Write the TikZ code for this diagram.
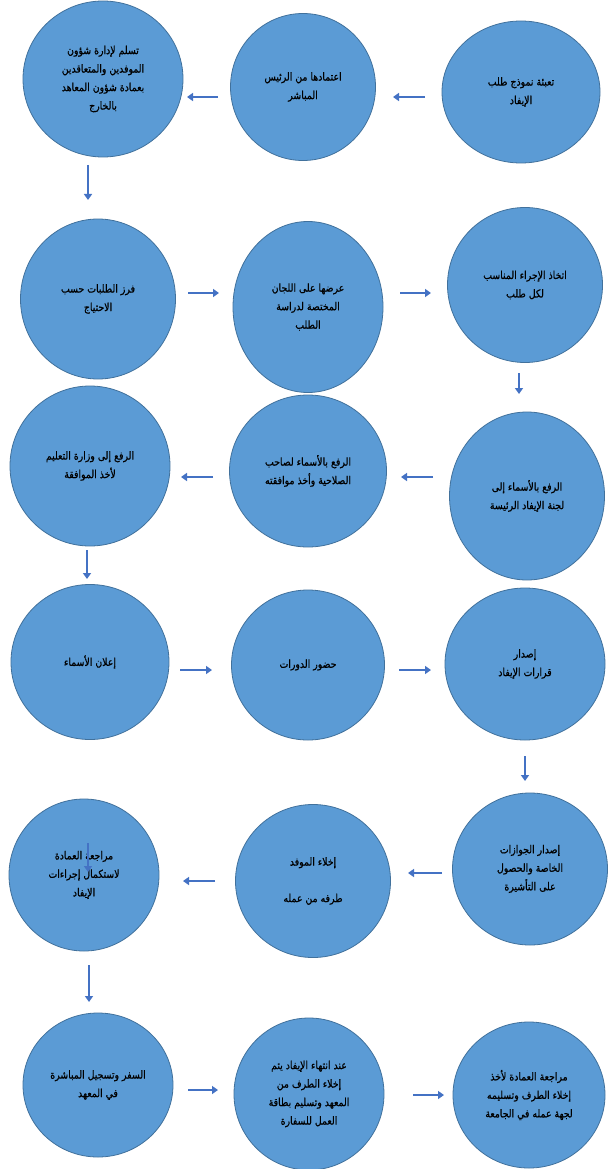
\documentclass[tikz,border=0pt]{standalone}
\usepackage{fontspec}
\usepackage{tikz}
\usetikzlibrary{shapes.geometric,arrows.meta}
\TeXXeTstate=1
\newfontfamily\arabicfont[Script=Arabic,FakeStretch=0.85,FakeBold=0.6]{DejaVu Sans}
\newcommand{\rl}[1]{\beginR #1\endR}
\definecolor{stepfill}{HTML}{5B9BD5}
\definecolor{stepline}{HTML}{41719C}
\definecolor{flowblue}{HTML}{4472C4}

\begin{document}
\begin{tikzpicture}[x=1pt,y=-1pt,
  stepcircle/.style={ellipse, draw=stepline, fill=stepfill, line width=0.8pt, inner sep=0pt,
    align=center, font=\arabicfont\fontsize{11}{18.5}\selectfont, text=black},
  flow/.style={draw=flowblue, line width=2pt, -{Triangle[length=6pt,width=8pt]}}]
\fill[white] (0,0) rectangle (608,1169);
\useasboundingbox (0,0) rectangle (608,1169);

% row 1
\node[stepcircle, minimum width=158pt, minimum height=142pt] (s1) at (521,92) {\rl{تعبئة نموذج طلب}\\\rl{الإيفاد}};
\node[stepcircle, minimum width=145pt, minimum height=147pt] (s2) at (303,87) {\rl{اعتمادها من الرئيس}\\\rl{المباشر}};
\node[stepcircle, minimum width=160pt, minimum height=156pt] (s3) at (103,79) {\rl{تسلم لإدارة شؤون}\\\rl{الموفدين والمتعاقدين}\\\rl{بعمادة شؤون المعاهد}\\\rl{بالخارج}};
% row 2
\node[stepcircle, minimum width=155pt, minimum height=160pt] (s4) at (98,299) {\rl{فرز الطلبات حسب}\\\rl{الاحتياج}};
\node[stepcircle, minimum width=150pt, minimum height=171pt] (s5) at (308,307) {\rl{عرضها على اللجان}\\\rl{المختصة لدراسة}\\\rl{الطلب}};
\node[stepcircle, minimum width=155pt, minimum height=155pt] (s6) at (525,285) {\rl{اتخاذ الإجراء المناسب}\\\rl{لكل طلب}};
% row 3
\node[stepcircle, minimum width=155pt, minimum height=168pt] (s7) at (527,496) {\rl{الرفع بالأسماء إلى}\\\rl{لجنة الإيفاد الرئيسة}};
\node[stepcircle, minimum width=157pt, minimum height=152pt] (s8) at (308,471) {\rl{الرفع بالأسماء لصاحب}\\\rl{الصلاحية وأخذ موافقته}};
\node[stepcircle, minimum width=160pt, minimum height=160pt] (s9) at (90,466) {\rl{الرفع إلى وزارة التعليم}\\\rl{لأخذ الموافقة}};
% row 4
\node[stepcircle, minimum width=158pt, minimum height=155pt] (s10) at (90,662) {\rl{إعلان الأسماء}};
\node[stepcircle, minimum width=153pt, minimum height=150pt] (s11) at (308,665) {\rl{حضور الدورات}};
\node[stepcircle, minimum width=160pt, minimum height=152pt] (s12) at (525,664) {\rl{إصدار}\\\rl{قرارات الإيفاد}};
% row 5
\node[stepcircle, minimum width=155pt, minimum height=152pt] (s13) at (530,869) {\rl{إصدار الجوازات}\\\rl{الخاصة والحصول}\\\rl{على التأشيرة}};
\node[stepcircle, minimum width=155pt, minimum height=153pt] (s14) at (313,881) {\rl{إخلاء الموفد}\\[18pt]\rl{طرفه من عمله}};
\node[stepcircle, minimum width=150pt, minimum height=152pt] (s15) at (84,875) {\rl{مراجعة العمادة}\\\rl{لاستكمال إجراءات}\\\rl{الإيفاد}};
% row 6
\node[stepcircle, minimum width=150pt, minimum height=144pt] (s16) at (98,1085) {\rl{السفر وتسجيل المباشرة}\\\rl{في المعهد}};
\node[stepcircle, minimum width=150pt, minimum height=152pt] (s17) at (309,1094) {\rl{عند انتهاء الإيفاد يتم}\\\rl{إخلاء الطرف من}\\\rl{المعهد وتسليم بطاقة}\\\rl{العمل للسفارة}};
\node[stepcircle, minimum width=152pt, minimum height=146pt] (s18) at (529,1095) {\rl{مراجعة العمادة لأخذ}\\\rl{إخلاء الطرف وتسليمه}\\\rl{لجهة عمله في الجامعة}};

% arrow ends
\coordinate (a1s) at (425,97);  \coordinate (a1e) at (393,97);
\coordinate (a2s) at (218,97);  \coordinate (a2e) at (187,97);
\coordinate (a3s) at (88,165);  \coordinate (a3e) at (88,200);
\coordinate (a4s) at (188,293); \coordinate (a4e) at (219,293);
\coordinate (a5s) at (400,293); \coordinate (a5e) at (431,293);
\coordinate (a6s) at (519,373); \coordinate (a6e) at (519,394);
\coordinate (a7s) at (433,477); \coordinate (a7e) at (401,477);
\coordinate (a8s) at (213,477); \coordinate (a8e) at (181,477);
\coordinate (a9s) at (87,550);  \coordinate (a9e) at (87,579);
\coordinate (a10s) at (180,670); \coordinate (a10e) at (212,670);
\coordinate (a11s) at (399,670); \coordinate (a11e) at (431,670);
\coordinate (a12s) at (525,756); \coordinate (a12e) at (525,781);
\coordinate (a13s) at (442,873); \coordinate (a13e) at (408,873);
\coordinate (a14s) at (215,881); \coordinate (a14e) at (183,881);
\coordinate (a15s) at (89,965);  \coordinate (a15e) at (89,1002);
\coordinate (a16s) at (188,1090); \coordinate (a16e) at (218,1090);
\coordinate (a17s) at (413,1095); \coordinate (a17e) at (444,1095);
\coordinate (g1s) at (88,843);  \coordinate (g1e) at (88,872);

\foreach \i in {1,...,17} \draw[flow] (a\i s) -- (a\i e);
\draw[flow, line width=1.5pt] (g1s) -- (g1e);
\end{tikzpicture}
\end{document}
